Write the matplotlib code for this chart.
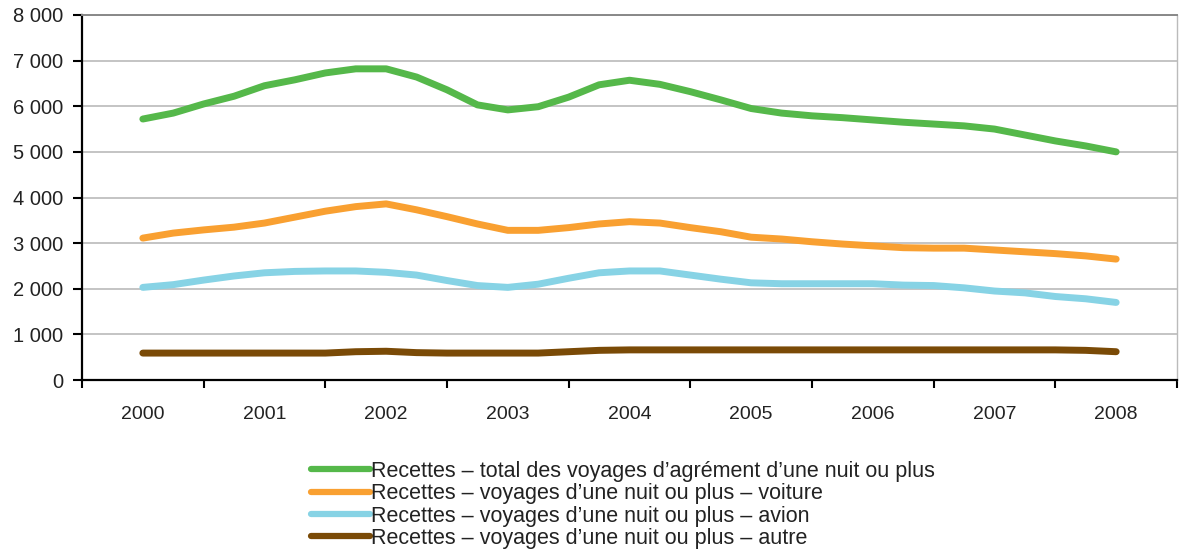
import matplotlib
matplotlib.use("Agg")
import matplotlib.pyplot as plt
from matplotlib.ticker import FuncFormatter, FixedLocator
import numpy as np

plt.rcParams['font.family'] = ['Liberation Sans', 'DejaVu Sans']

# quarterly positions from 2000 to 2008
years = [2000, 2001, 2002, 2003, 2004, 2005, 2006, 2007, 2008]
quarters = [2000 + i * 0.25 for i in range(33)]

total = [5720, 5850, 6050, 6220, 6450, 6580, 6730, 6820, 6820,
         6640, 6360, 6030, 5920, 5990, 6200, 6470, 6570,
         6480, 6320, 6140, 5950, 5850, 5790, 5750, 5700,
         5650, 5610, 5570, 5500, 5370, 5240, 5130, 5000]
voiture = [3110, 3220, 3290, 3350, 3440, 3570, 3700, 3800, 3860,
           3730, 3580, 3420, 3280, 3280, 3340, 3420, 3470,
           3440, 3340, 3250, 3130, 3090, 3030, 2980, 2940,
           2900, 2890, 2890, 2850, 2810, 2770, 2720, 2650]
avion = [2030, 2090, 2190, 2280, 2350, 2380, 2390, 2390, 2360,
         2300, 2180, 2070, 2030, 2100, 2230, 2350, 2390,
         2390, 2300, 2210, 2130, 2110, 2110, 2110, 2110,
         2080, 2070, 2020, 1950, 1910, 1830, 1780, 1700]
autre = [590, 590, 590, 590, 590, 590, 590, 620, 630,
         600, 590, 590, 590, 590, 620, 650, 660,
         660, 660, 660, 660, 660, 660, 660, 660,
         660, 660, 660, 660, 660, 660, 650, 620]

labels = ["Recettes \u2013 total des voyages d\u2019agr\u00e9ment d\u2019une nuit ou plus",
          "Recettes \u2013 voyages d\u2019une nuit ou plus \u2013 voiture",
          "Recettes \u2013 voyages d\u2019une nuit ou plus \u2013 avion",
          "Recettes \u2013 voyages d\u2019une nuit ou plus \u2013 autre"]
colors = ["#55B84A", "#F9A031", "#87D3E5", "#7A4A06"]

fig = plt.figure(figsize=(11.79, 5.5), dpi=100)
ax = fig.add_axes([82/1179, 1 - 380/550, (1177 - 82)/1179, (380 - 15)/550])

for series, c, lab in zip([total, voiture, avion, autre], colors, labels):
    ax.plot(quarters, series, color=c, lw=5, solid_capstyle='round',
            solid_joinstyle='round', label=lab, zorder=3)

ax.set_xlim(1999.5, 2008.5)
ax.set_ylim(0, 8000)
ax.set_yticks(np.arange(0, 8001, 1000))
ax.yaxis.set_major_formatter(FuncFormatter(lambda v, p: f"{int(v):,}".replace(",", " ")))
ax.set_xticks(years)
ax.set_xticklabels([str(y) for y in years])
ax.xaxis.set_minor_locator(FixedLocator([1999.5 + k for k in range(10)]))
ax.tick_params(axis='x', which='major', length=0, pad=19, labelsize=14, colors='#222222')
ax.tick_params(axis='x', which='minor', length=6, width=1.5, direction='out', color='black')
ax.tick_params(axis='y', which='major', length=6.5, width=1.5, direction='out', pad=7,
               labelsize=14.5, labelcolor='#222222')

ax.grid(axis='y', color='#C4C4C4', lw=1.4, zorder=0)
for s in ['left', 'bottom']:
    ax.spines[s].set_color('black')
    ax.spines[s].set_linewidth(1.6)
ax.spines['top'].set_color('#888888')
ax.spines['top'].set_linewidth(1.4)
ax.spines['right'].set_color('#BBBBBB')
ax.spines['right'].set_linewidth(1.0)

leg = fig.legend(loc='upper left', bbox_to_anchor=(311/1179, 1 - 461/550),
                 frameon=False, fontsize=15.5, handlelength=2.75, handletextpad=0.05,
                 labelspacing=0.06, borderpad=0, borderaxespad=0)
for t in leg.get_texts():
    t.set_color('#222222')
for h in leg.get_lines():
    h.set_linewidth(4.5)

fig.savefig("out.png", dpi=100)
